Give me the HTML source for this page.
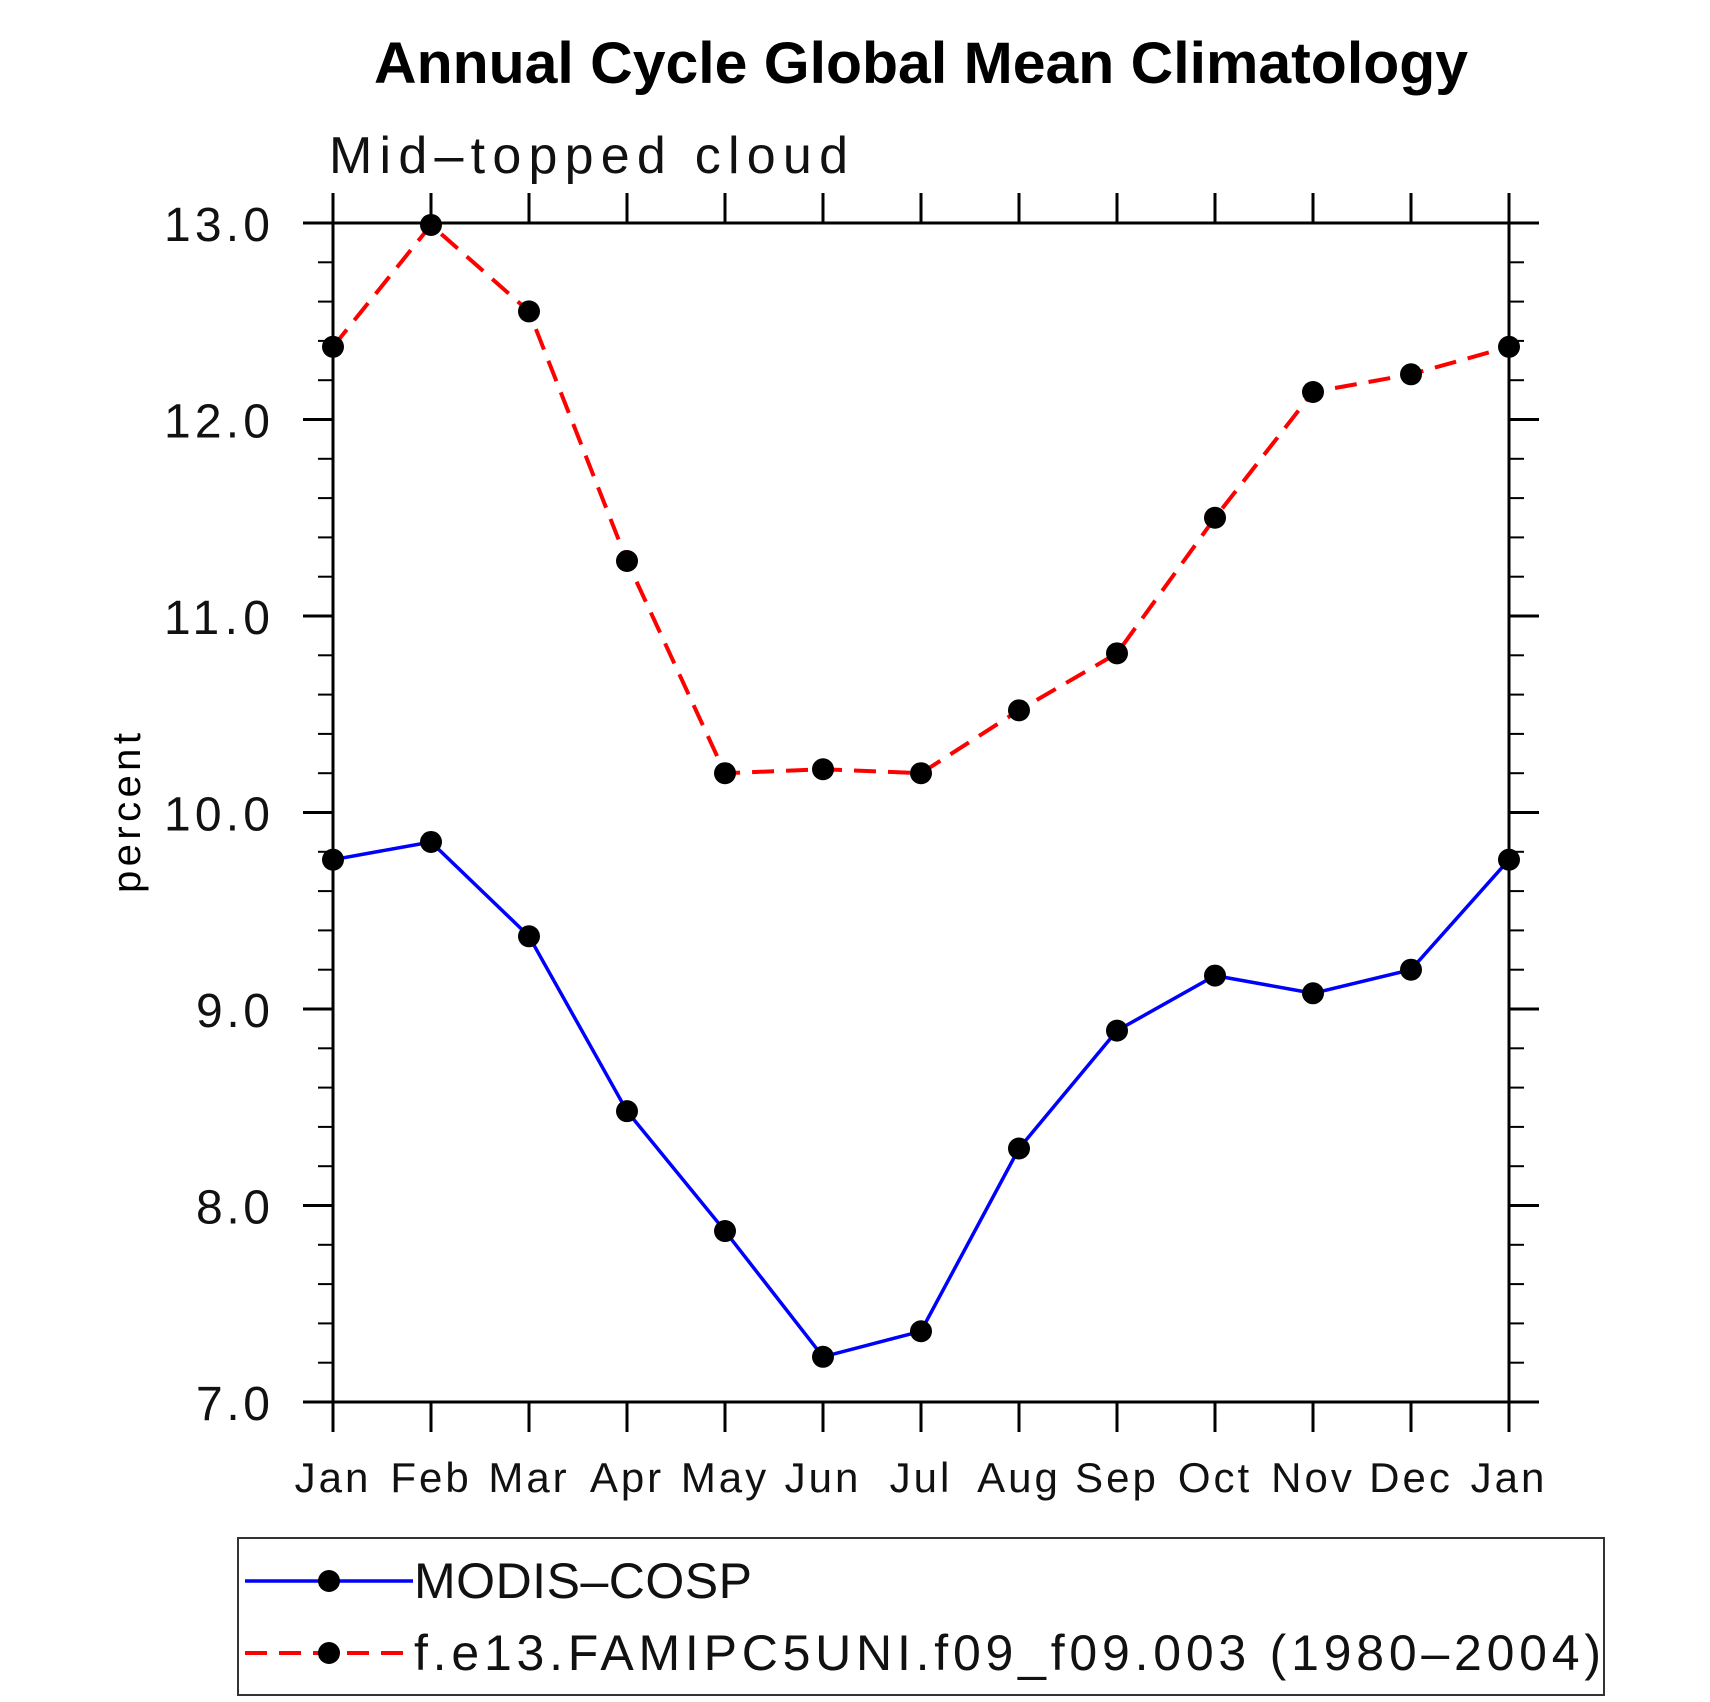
<!DOCTYPE html>
<html><head><meta charset="utf-8"><style>
html,body{margin:0;padding:0;background:#fff;}
svg{display:block;}
text{font-family:"Liberation Sans",sans-serif;}
</style></head><body>
<svg id="chart" width="1710" height="1702" viewBox="0 0 1710 1702">
<text x="374" y="83" textLength="1094" lengthAdjust="spacingAndGlyphs" font-size="58" font-weight="bold">Annual Cycle Global Mean Climatology</text>
<text x="329" y="173" textLength="519" lengthAdjust="spacing" font-size="52" fill="#111">Mid–topped cloud</text>
<text transform="translate(140,813) rotate(-90)" text-anchor="middle" font-size="40" textLength="160" lengthAdjust="spacing">percent</text>
<g id="axes"></g>
<g id="series"></g>
<g>
<rect x="238" y="1538" width="1366" height="157" fill="none" stroke="#333" stroke-width="2"/>
<g>
<line x1="245" y1="1581" x2="413" y2="1581" stroke="#0000ff" stroke-width="3.5"/>
<circle cx="329" cy="1581" r="11" fill="#000"/>
<text x="414" y="1598" font-size="50" textLength="338" lengthAdjust="spacing" fill="#111">MODIS–COSP</text>
</g>
<g>
<line x1="245" y1="1653" x2="413" y2="1653" stroke="#ff0000" stroke-width="4" stroke-dasharray="22,12"/>
<circle cx="329" cy="1653" r="11" fill="#000"/>
<text x="414" y="1670" font-size="50" textLength="1187" lengthAdjust="spacing" fill="#111">f.e13.FAMIPC5UNI.f09_f09.003 (1980–2004)</text>
</g>
</g>
</svg>
<script>
const months = ["Jan","Feb","Mar","Apr","May","Jun","Jul","Aug","Sep","Oct","Nov","Dec","Jan"];
const modis = [9.76,9.85,9.37,8.48,7.87,7.23,7.36,8.29,8.89,9.17,9.08,9.20,9.76];
const model = [12.37,12.99,12.55,11.28,10.20,10.22,10.20,10.52,10.81,11.50,12.14,12.23,12.37];
const yTicks = [7.0,8.0,9.0,10.0,11.0,12.0,13.0];

const NS="http://www.w3.org/2000/svg";
const L=333,R=1509,T=223,B=1402,yMin=7,yMax=13;
const xs=i=>L+(R-L)*i/(months.length-1);
const ys=v=>B-(v-yMin)/(yMax-yMin)*(B-T);
function mk(tag,attrs,parent){const e=document.createElementNS(NS,tag);for(const k in attrs)e.setAttribute(k,attrs[k]);parent.appendChild(e);return e;}
const ax=document.getElementById('axes');
const fr=mk('rect',{x:L,y:T,width:R-L,height:B-T,fill:'none',stroke:'#000','stroke-width':3},ax);


months.forEach((m,i)=>{
  const x=xs(i);
  mk('line',{x1:x,y1:B,x2:x,y2:B+30,stroke:'#000','stroke-width':3},ax);
  mk('line',{x1:x,y1:T,x2:x,y2:T-30,stroke:'#000','stroke-width':3},ax);
  const t=mk('text',{x:x,y:1492,'text-anchor':'middle','font-size':42,'letter-spacing':3,fill:'#111'},ax);
  t.textContent=m;
  
  
});
for(let v=yMin;v<=yMax+1e-9;v+=0.2){
  const y=ys(v);const major=Math.abs(v-Math.round(v))<1e-6;const len=major?30:15;
  mk('line',{x1:L,y1:y,x2:L-len,y2:y,stroke:'#000','stroke-width':major?3:2},ax);
  mk('line',{x1:R,y1:y,x2:R+len,y2:y,stroke:'#000','stroke-width':major?3:2},ax);
}
yTicks.forEach(v=>{
  const s=v.toFixed(1);
  const w=s.length===4?106:74;
  const t=mk('text',{x:270-w,y:ys(v)+18,'font-size':48,textLength:w,lengthAdjust:'spacing',fill:'#111'},ax);
  t.textContent=s;
  
  
});
const sg=document.getElementById('series');
function draw(data,color,dash,name){
  const g=mk('g',{},sg);
  
  
  const p=mk('polyline',{points:data.map((v,i)=>xs(i)+','+ys(v)).join(' '),fill:'none',stroke:color,'stroke-width':dash?4:3.5},g);
  if(dash)p.setAttribute('stroke-dasharray',dash);
  
  
  data.forEach((v,i)=>{
    const c=mk('circle',{cx:xs(i),cy:ys(v),r:11,fill:'#000'},g);
    
    
  });
}
draw(model,'#ff0000','22,12','model-series');
draw(modis,'#0000ff',null,'modis-series');
</script>
</body></html>
